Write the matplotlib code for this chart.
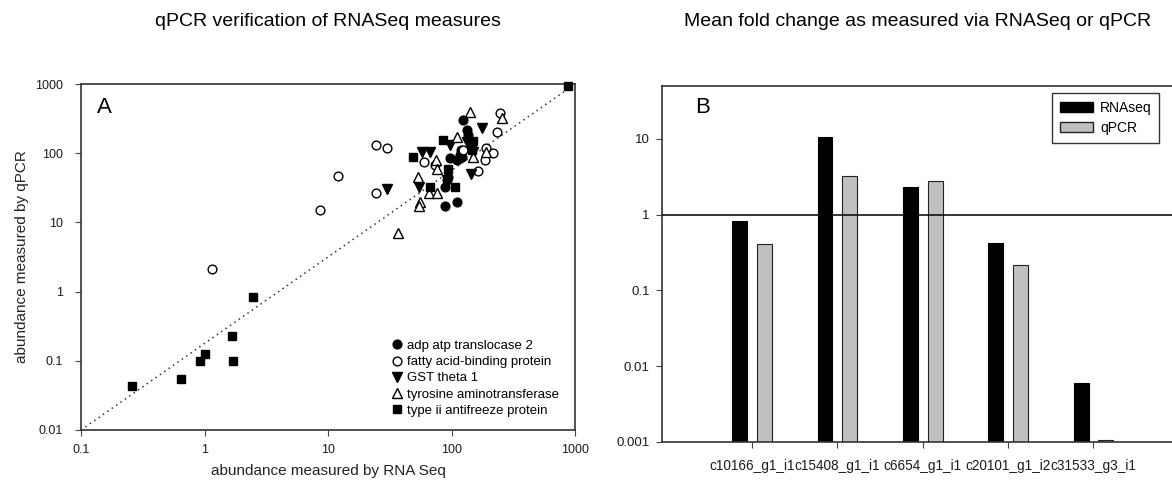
import numpy as np
import matplotlib.pyplot as plt
from matplotlib.patches import Patch

plt.rcParams['font.family'] = ['Liberation Sans', 'DejaVu Sans']

# panel A: abundance (RNA Seq, qPCR) per gene
adp_x = [124, 133, 135, 97, 110, 117, 122, 88, 88, 111, 94, 92, 120]
adp_y = [300, 216, 185, 85, 80, 94, 88, 32, 17, 20, 45, 41, 110]

fabp_x = [1.15, 8.6, 12, 24.5, 30, 24.5, 245, 233, 215, 187, 165, 124, 60, 73, 190]
fabp_y = [2.1, 15, 47, 130, 118, 27, 380, 200, 100, 80, 55, 110, 75, 68, 120]

gst_x = [175, 30, 58, 67, 97, 55, 145, 133, 150, 92]
gst_y = [230, 30, 105, 105, 130, 32, 50, 145, 103, 41]

tat_x = [140, 255, 110, 75, 77, 54, 66, 76, 56, 55, 37, 150, 190]
tat_y = [390, 320, 170, 80, 60, 45, 27, 27, 20, 17, 7, 88, 105]

afp_x = [870, 0.26, 0.65, 0.92, 1.0, 1.67, 1.7, 2.47, 49, 67, 107, 94, 149, 85, 146]
afp_y = [950, 0.043, 0.055, 0.1, 0.125, 0.23, 0.1, 0.83, 88, 32, 32, 59, 150, 155, 110]

# panel B: mean fold change
genes = ["c10166_g1_i1", "c15408_g1_i1", "c6654_g1_i1", "c20101_g1_i2", "c31533_g3_i1"]
rnaseq = [0.83, 10.5, 2.3, 0.42, 0.006]
qpcr = [0.41, 3.2, 2.8, 0.22, 0.00105]

fig = plt.figure(figsize=(11.72, 4.88), dpi=100)
W, H = 1172, 488
axA = fig.add_axes([81 / W, 1 - 430 / H, (575 - 81) / W, (430 - 84) / H])
axB = fig.add_axes([662 / W, 1 - 442 / H, (1172 - 662) / W, (442 - 86) / H])

tick_col = '#1a1a2a'
ms = 6.3

# ---- A ----
axA.plot([0.1, 1000], [0.01, 1000], linestyle=(0, (1, 2.5)), color='#333333', lw=1.1, zorder=1)
axA.plot(adp_x, adp_y, 'o', color='black', ms=ms, ls='none', label='adp atp translocase 2', zorder=3)
axA.plot(fabp_x, fabp_y, 'o', mfc='white', mec='black', ms=ms, ls='none', label='fatty acid-binding protein', zorder=3)
axA.plot(gst_x, gst_y, 'v', color='black', ms=ms + 0.5, ls='none', label='GST theta 1', zorder=3)
axA.plot(tat_x, tat_y, '^', mfc='white', mec='black', ms=ms + 0.5, ls='none', label='tyrosine aminotransferase', zorder=3)
axA.plot(afp_x, afp_y, 's', color='black', ms=ms, ls='none', label='type ii antifreeze protein', zorder=3, clip_on=False)
axA.set_xscale('log')
axA.set_yscale('log')
axA.set_xlim(0.1, 1000)
axA.set_ylim(0.01, 1000)
axA.set_xticks([0.1, 1, 10, 100, 1000])
axA.set_xticklabels(['0.1', '1', '10', '100', '1000'])
axA.set_yticks([0.01, 0.1, 1, 10, 100, 1000])
axA.set_yticklabels(['0.01', '0.1', '1', '10', '100', '1000'])
axA.minorticks_off()
axA.tick_params(direction='out', length=4, labelsize=9, colors='#444444', labelcolor=tick_col)
axA.tick_params(axis='y', pad=9)
axA.tick_params(axis='x', pad=6)
axA.set_xlabel('abundance measured by RNA Seq', fontsize=11, color='#222222', labelpad=6)
axA.set_ylabel('abundance measured by qPCR', fontsize=11, color='#222222', labelpad=4)
axA.text(0.032, 0.962, 'A', transform=axA.transAxes, fontsize=16, va='top', ha='left')
for s in axA.spines.values():
    s.set_color('#333333')
    s.set_linewidth(1.2)
axA.legend(loc='lower right', frameon=False, fontsize=9.5, handletextpad=0.3,
           labelspacing=0.3, borderaxespad=0.6, handlelength=1.0,
           bbox_to_anchor=(0.995, 0.0))
fig.text(328 / W, 1 - 22 / H, 'qPCR verification of RNASeq measures', fontsize=14,
         ha='center', va='center')

# ---- B ----
x = np.arange(len(genes))
bw = 0.175
axB.bar(x - 0.145, rnaseq, width=bw, color='black', edgecolor='black', lw=0.8, zorder=2)
axB.bar(x + 0.145, qpcr, width=bw, color='#c0c0c0', edgecolor='#222222', lw=0.8, zorder=2)
axB.axhline(1, color='black', lw=1.1, zorder=3)
axB.set_yscale('log')
axB.set_ylim(0.001, 50)
axB.set_xlim(-1.055, 4.92)
axB.set_yticks([0.001, 0.01, 0.1, 1, 10])
axB.set_yticklabels(['0.001', '0.01', '0.1', '1', '10'])
axB.minorticks_off()
axB.set_xticks(x)
axB.set_xticklabels(genes)
axB.tick_params(direction='out', length=4, labelsize=9.5, colors='#444444', labelcolor=tick_col)
axB.tick_params(axis='x', labelsize=9.8, pad=8)
axB.tick_params(axis='y', pad=5)
axB.spines['right'].set_visible(False)
for s in ['left', 'top', 'bottom']:
    axB.spines[s].set_color('#333333')
    axB.spines[s].set_linewidth(1.2)
axB.text(0.065, 0.97, 'B', transform=axB.transAxes, fontsize=16, va='top', ha='left')
handles = [Patch(facecolor='black', edgecolor='black', label='RNAseq'),
           Patch(facecolor='#c0c0c0', edgecolor='#222222', label='qPCR')]
leg = axB.legend(handles=handles, loc='upper right', fontsize=10, fancybox=False,
                 edgecolor='black', borderaxespad=0.25, handlelength=2.4,
                 handleheight=0.75, labelspacing=0.45, handletextpad=0.5,
                 borderpad=0.55, bbox_to_anchor=(0.982, 0.99))
leg.get_frame().set_linewidth(1.0)
fig.text(918 / W, 1 - 22 / H, 'Mean fold change as measured via RNASeq or qPCR', fontsize=14,
         ha='center', va='center')

fig.savefig('out.png', dpi=100)
